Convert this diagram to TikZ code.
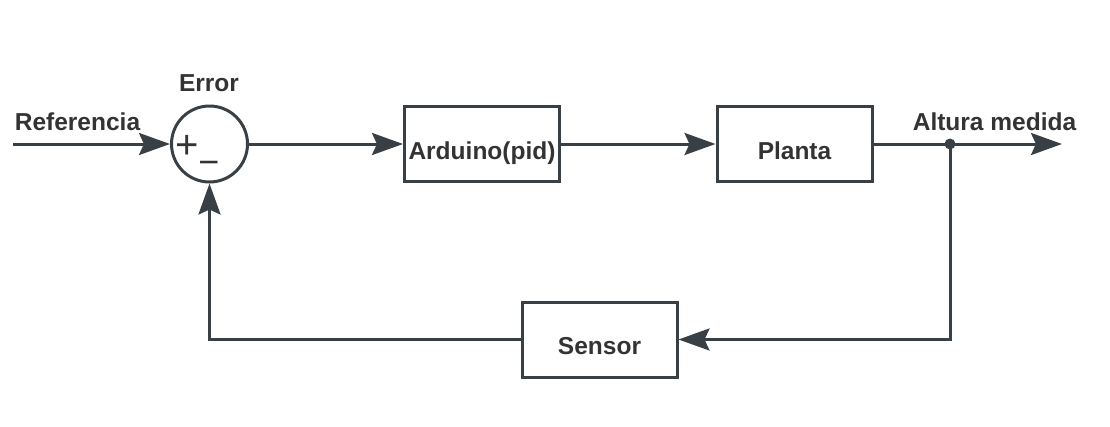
\documentclass[tikz,border=0pt]{standalone}
\usepackage{fontspec}
\setmainfont{Liberation Sans}
\usetikzlibrary{arrows.meta}
\definecolor{lineGray}{HTML}{394045}
\definecolor{textGray}{HTML}{333333}
\newcommand{\drawBlock}[3]{
	\node[block] (#1) at (#2) {#3};
}

\begin{document}
\begin{tikzpicture}[x=1pt,y=-1pt,
		block/.style={draw=lineGray, line width=3pt, minimum width=155pt, minimum height=75pt,
			inner sep=0pt, text height=30pt, text depth=0pt, text=textGray,
			font=\fontsize{24.5}{24.5}\selectfont\bfseries},
		lbl/.style={text=textGray, inner sep=0pt, font=\fontsize{24.5}{24.5}\selectfont\bfseries},
		sign/.style={text=textGray, inner sep=0pt},
		flow/.style={draw=lineGray, line width=3pt, -{Stealth[length=31pt, width=22pt, inset=5pt]}},
		wire/.style={draw=lineGray, line width=3pt}]
		\useasboundingbox (0,0) rectangle (1110,426);

		\coordinate (Ref_In) at (13,144);
		\coordinate (Out_End) at (1062,144);

		\node[circle, draw=lineGray, line width=3pt, minimum size=76pt, inner sep=0pt] (sum) at (209.5,144) {};
		\node[sign, font=\fontsize{40}{40}\selectfont] (plus) at (187,147) {+};
		\node[sign, font=\fontsize{36}{36}\selectfont] (minus) at (209,168) {−};

		\drawBlock{arduino}{482,144}{Arduino(pid)}
		\drawBlock{planta}{794.5,144}{Planta}
		\drawBlock{sensor}{599.5,339.5}{Sensor}

		\node[circle, fill=lineGray, inner sep=0pt, minimum size=11pt] (branch) at (950,144) {};

		\node[lbl] (referencia) at (77.5,121.5) {Referencia};
		\node[lbl] (error) at (209,83.5) {Error};
		\node[lbl] (altura) at (994.5,121.5) {Altura medida};

		\draw[flow] (Ref_In) -- (sum.west);
		\draw[flow] (sum.east) -- (arduino.west);
		\draw[flow] (arduino.east) -- (planta.west);
		\draw[wire] (planta.east) -- (branch.center);
		\draw[flow] (branch.center) -- (Out_End);
		\draw[flow] (branch.center) |- (sensor.east);
		\draw[flow] (sensor.west) -| (sum.south);
	\end{tikzpicture}
\end{document}
